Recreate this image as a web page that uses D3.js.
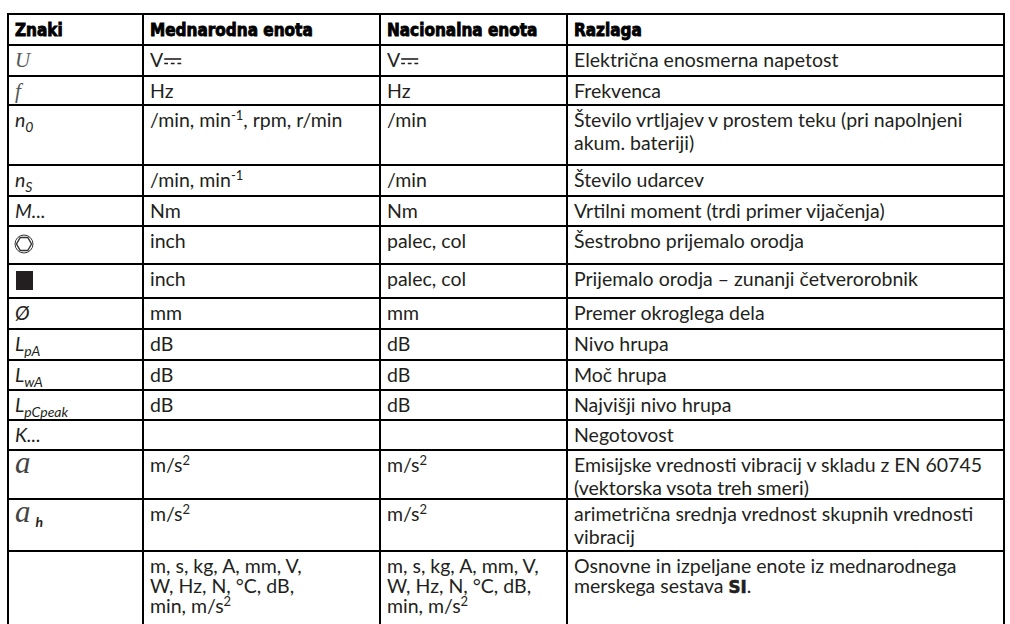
<!DOCTYPE html>
<html><head><meta charset="utf-8">
<script src="https://cdn.jsdelivr.net/npm/d3@7"></script>
<style>
html,body{margin:0;padding:0;background:#fff;}
svg{display:block;}
</style></head>
<body>
<script>
// ---------- DATA ----------
const headers = ["Znaki", "Mednarodna enota", "Nacionalna enota", "Razlaga"];
const symbols = [
  [["U","serif"]],
  [["f","serif"]],
  [["n","i"],["0","sub"]],
  [["n","i"],["S","sub"]],
  [["M...","i"]],
  [["hex","icon"]],
  [["square","icon"]],
  [["Ø","i"]],
  [["L","i"],["pA","sub"]],
  [["L","i"],["wA","sub"]],
  [["L","i"],["pCpeak","sub"]],
  [["K...","i"]],
  [["a","bigserif"]],
  [["a","bigserif"],["h","subb"]],
  []
];
const intlUnits = [
  ["V{dc}"], ["Hz"], ["/min, min^{-1}, rpm, r/min"], ["/min, min^{-1}"], ["Nm"],
  ["inch"], ["inch"], ["mm"], ["dB"], ["dB"], ["dB"], [""], ["m/s^{2}"], ["m/s^{2}"],
  ["m, s, kg, A, mm, V,", "W, Hz, N, °C, dB,", "min, m/s^{2}"]
];
const natUnits = [
  ["V{dc}"], ["Hz"], ["/min"], ["/min"], ["Nm"],
  ["palec, col"], ["palec, col"], ["mm"], ["dB"], ["dB"], ["dB"], [""], ["m/s^{2}"], ["m/s^{2}"],
  ["m, s, kg, A, mm, V,", "W, Hz, N, °C, dB,", "min, m/s^{2}"]
];
const descriptions = [
  ["Električna enosmerna napetost"],
  ["Frekvenca"],
  ["Število vrtljajev v prostem teku (pri napolnjeni", "akum. bateriji)"],
  ["Število udarcev"],
  ["Vrtilni moment (trdi primer vijačenja)"],
  ["Šestrobno prijemalo orodja"],
  ["Prijemalo orodja – zunanji četverorobnik"],
  ["Premer okroglega dela"],
  ["Nivo hrupa"],
  ["Moč hrupa"],
  ["Najvišji nivo hrupa"],
  ["Negotovost"],
  ["Emisijske vrednosti vibracij v skladu z EN 60745", "(vektorska vsota treh smeri)"],
  ["arimetrična srednja vrednost skupnih vrednosti", "vibracij"],
  ["Osnovne in izpeljane enote iz mednarodnega", "merskega sestava **SI**."]
];

// ---------- LAYOUT ----------
const W = 1010, H = 624;
const top0 = 14;
const headerH = 31;
const rowHeights = [31, 29, 60, 31, 30, 38, 34, 31, 31, 30, 30, 30, 49, 52, 90];
const lineGaps  = [23, 23, 23, 23, 23, 23, 23, 23, 23, 23, 23, 23, 23, 23, 20];
const colEdges = [8, 143, 380, 567, 1004];
const BODY = "Lato, 'Open Sans', sans-serif";
const HEAD = "'Liberation Sans Narrow', 'DejaVu Sans Condensed', 'Roboto Condensed', sans-serif";
const INK = "#231f20";
const fs = 19.5, padX = 7;

const svg = d3.select("body").append("svg").attr("width", W).attr("height", H);

const x = d3.scaleOrdinal().domain(d3.range(4)).range(colEdges.slice(0, 4));
const rowTops = [top0 + headerH, ...d3.cumsum(rowHeights).map(v => v + top0 + headerH)];
const yRow = d3.scaleOrdinal().domain(d3.range(rowTops.length)).range(rowTops);

function richLine(g, str, x0, y0) {
  const t = g.append("text").attr("x", x0).attr("y", y0)
    .attr("font-family", BODY).attr("font-size", fs).attr("fill", INK);
  const parts = str.split(/(\^\{[^}]*\}|\*\*[^*]+\*\*|\{dc\})/).filter(s => s !== "");
  let shifted = 0, dc = false;
  parts.forEach(p => {
    if (p.startsWith("^{")) {
      t.append("tspan").attr("font-size", 13).attr("dy", -7.5 - shifted).text(p.slice(2, -1));
      shifted = -7.5;
    } else if (p.startsWith("**")) {
      t.append("tspan").attr("dy", -shifted).attr("font-family", HEAD).attr("font-weight", 700)
        .attr("font-size", fs - 1).attr("font-stretch", "condensed")
        .attr("stroke", INK).attr("stroke-width", 0.6).text(p.slice(2, -2));
      shifted = 0;
    } else if (p === "{dc}") {
      dc = true;
    } else {
      t.append("tspan").attr("dy", -shifted).text(p);
      shifted = 0;
    }
  });
  if (dc) {
    const len = t.node().getComputedTextLength();
    const sx = x0 + len + 1, w = 17;
    g.append("line").attr("x1", sx).attr("x2", sx + w).attr("y1", y0 - 8).attr("y2", y0 - 8)
      .attr("stroke", INK).attr("stroke-width", 1.6);
    g.append("line").attr("x1", sx).attr("x2", sx + w).attr("y1", y0 - 3.5).attr("y2", y0 - 3.5)
      .attr("stroke", INK).attr("stroke-width", 1.6).attr("stroke-dasharray", "3.8,2.8");
  }
}

// header
const hg = svg.append("g");
headers.forEach((h, i) => {
  hg.append("text").attr("x", x(i) + padX).attr("y", top0 + 22)
    .attr("font-family", HEAD).attr("font-weight", 700).attr("font-stretch", "condensed")
    .attr("font-size", 17).attr("fill", "#000").attr("stroke", "#000").attr("stroke-width", 0.8)
    .text(h);
});

// body rows
const rows = svg.append("g").selectAll("g").data(descriptions).join("g");
rows.each(function(d, r) {
  const g = d3.select(this);
  const yt = yRow(r);
  const base = yt + 22;
  let sx = x(0) + padX;
  (symbols[r] || []).forEach(([txt, st]) => {
    if (st === "icon") {
      const cx = x(0) + 16, cy = yt + rowHeights[r] / 2 - 1;
      if (txt === "hex") {
        g.append("circle").attr("cx", cx).attr("cy", cy).attr("r", 9)
          .attr("fill", "none").attr("stroke", "#333").attr("stroke-width", 1);
        const hex = d3.range(6).map(k => [cx + 7.5 * Math.cos(k * Math.PI / 3), cy + 7.5 * Math.sin(k * Math.PI / 3)]);
        g.append("path").attr("d", d3.line()(hex) + "Z").attr("fill", "none")
          .attr("stroke", "#333").attr("stroke-width", 1.4);
      } else {
        g.append("rect").attr("x", cx - 8).attr("y", cy - 9).attr("width", 17).attr("height", 19)
          .attr("fill", INK);
      }
      return;
    }
    const t = g.append("text").attr("x", sx).attr("fill", INK);
    if (st === "serif") {
      t.attr("y", base).attr("font-family", "'Liberation Serif', serif").attr("font-style", "italic")
        .attr("font-size", 21).attr("fill", "#555").text(txt);
    } else if (st === "bigserif") {
      t.attr("y", base + 1).attr("font-family", "'Liberation Serif', serif").attr("font-style", "italic")
        .attr("font-size", 31).attr("fill", "#444").text(txt);
    } else if (st === "i") {
      t.attr("y", base).attr("font-family", BODY).attr("font-style", "italic").attr("font-size", fs).text(txt);
    } else if (st === "sub") {
      t.attr("y", base + 5).attr("font-family", BODY).attr("font-style", "italic").attr("font-size", 14).text(txt);
    } else if (st === "subb") {
      sx += 5;
      t.attr("x", sx).attr("y", base + 6).attr("font-family", BODY).attr("font-style", "italic")
        .attr("font-weight", 700).attr("font-size", 14).text(txt);
    }
    sx += t.node().getComputedTextLength();
  });
  [intlUnits[r], natUnits[r], d].forEach((lines, c) => {
    lines.forEach((ln, k) => richLine(g, ln, x(c + 1) + padX, base + k * lineGaps[r]));
  });
});

// grid lines
const grid = svg.append("g").attr("stroke", "#000").attr("stroke-width", 2);
const hLines = [top0, ...rowTops.slice(0, -1)];
grid.selectAll("line.h").data(hLines).join("line").attr("class", "h")
  .attr("x1", colEdges[0] - 1).attr("x2", colEdges[4] + 1).attr("y1", d => d).attr("y2", d => d);
grid.selectAll("line.v").data(colEdges).join("line").attr("class", "v")
  .attr("x1", d => d).attr("x2", d => d).attr("y1", top0).attr("y2", H + 10);
</script>
</body></html>
